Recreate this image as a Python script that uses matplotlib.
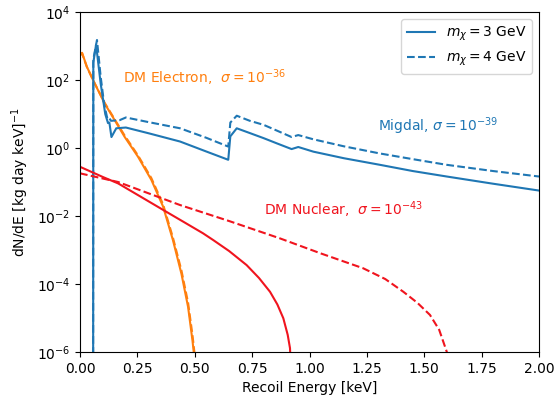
import numpy as np
import matplotlib
matplotlib.use('Agg')
import matplotlib.pyplot as plt

# DM-electron scattering spectra (3 GeV solid / 4 GeV dashed)
e_dme_3 = [0.0, 0.009, 0.03, 0.064, 0.108, 0.151, 0.195, 0.253, 0.311, 0.362, 0.405, 0.442, 0.471, 0.490, 0.497]
dme_3 = [5.5e2, 6.3e2, 2.45e2, 7.9e1, 2.0e1, 6.6e0, 2.1e0, 5.5e-1, 1.15e-1, 1.9e-2, 1.95e-3, 2.0e-4, 2.1e-5,
         2.2e-6, 8.1e-7]
e_dme_4 = [0.0, 0.009, 0.03, 0.064, 0.108, 0.151, 0.195, 0.253, 0.311, 0.362, 0.405, 0.442, 0.471, 0.490, 0.500]
dme_4 = [5.3e2, 6.1e2, 2.4e2, 8.0e1, 2.1e1, 7.0e0, 2.3e0, 6.0e-1, 1.3e-1, 2.2e-2, 2.3e-3, 2.5e-4, 2.8e-5,
         3.2e-6, 8.0e-7]

# Migdal spectra
e_mig_3 = [0.057, 0.058, 0.07, 0.09, 0.11, 0.122, 0.128, 0.137, 0.158, 0.2, 0.3, 0.436, 0.55, 0.646, 0.655,
           0.683, 0.74, 0.8, 0.86, 0.922, 0.951, 1.017, 1.15, 1.307, 1.45, 1.598, 1.8, 2.0]
mig_3 = [1e-10, 3.2e2, 1.1e3, 7.9e1, 1.0e1, 5.4e0, 5.6e0, 2.1e0, 3.8e0, 4.0e0, 2.7e0, 1.55e0, 7.9e-1, 4.5e-1,
         2.2e0, 3.8e0, 2.75e0, 1.95e0, 1.35e0, 9.3e-1, 1.07e0, 7.8e-1, 5.0e-1, 3.2e-1, 2.1e-1, 1.45e-1,
         8.9e-2, 5.6e-2]
e_mig_4 = [0.057, 0.058, 0.074, 0.09, 0.105, 0.119, 0.126, 0.135, 0.173, 0.2, 0.3, 0.436, 0.55, 0.646, 0.655,
           0.683, 0.74, 0.8, 0.86, 0.922, 0.951, 1.017, 1.15, 1.307, 1.45, 1.598, 1.8, 2.0]
mig_4 = [1e-10, 4.0e2, 1.5e3, 1.26e2, 2.0e1, 7.4e0, 7.9e0, 6.3e0, 6.6e0, 7.9e0, 5.75e0, 3.8e0, 2.0e0, 1.1e0,
         5.6e0, 8.9e0, 6.3e0, 4.8e0, 3.2e0, 2.1e0, 2.4e0, 1.8e0, 1.12e0, 6.9e-1, 4.7e-1, 3.2e-1, 2.1e-1,
         1.45e-1]

# DM-nuclear spectra
e_dmn_3 = [0.0, 0.1, 0.166, 0.363, 0.45, 0.536, 0.581, 0.65, 0.726, 0.78, 0.828, 0.86, 0.886, 0.905,
           0.915, 0.922]
dmn_3 = [2.8e-1, 1.4e-1, 9.1e-2, 1.5e-2, 6.8e-3, 3.1e-3, 1.95e-3, 9.3e-4, 3.6e-4, 1.5e-4, 5.9e-5, 2.5e-5,
         9.8e-6, 3.2e-6, 1.3e-6, 1e-7]
e_dmn_4 = [0.0, 0.166, 0.436, 0.65, 0.871, 1.05, 1.234, 1.33, 1.409, 1.47, 1.525, 1.565, 1.598, 1.61]
dmn_4 = [1.8e-1, 1.0e-1, 2.1e-2, 7.1e-3, 2.2e-3, 7.9e-4, 2.9e-4, 1.4e-4, 5.9e-5, 2.8e-5, 1.23e-5, 4.5e-6,
         1.02e-6, 1e-7]

blue = '#1f77b4'
orange = '#ff7f0e'
red = '#f0141e'

fig = plt.figure(figsize=(5.58, 3.98), dpi=100)
ax = fig.add_axes([80/558, 1 - 352/398, 459/558, 340/398])

ax.plot(e_dme_3, dme_3, color=orange, lw=1.5)
ax.plot(e_dme_4, dme_4, color=orange, lw=1.5, ls='--')
l3, = ax.plot(e_mig_3, mig_3, color=blue, lw=1.5, label=r'$m_\chi = 3$ GeV')
l4, = ax.plot(e_mig_4, mig_4, color=blue, lw=1.5, ls='--', label=r'$m_\chi = 4$ GeV')
ax.plot(e_dmn_3, dmn_3, color=red, lw=1.5)
ax.plot(e_dmn_4, dmn_4, color=red, lw=1.5, ls='--')

ax.set_yscale('log')
ax.set_xlim(0, 2)
ax.set_ylim(1e-6, 1e4)
ax.set_yticks([1e-6, 1e-4, 1e-2, 1e0, 1e2, 1e4])
ax.minorticks_off()

ax.text(0.187, 1.2e2, r'DM Electron,  $\sigma = 10^{-36}$', color=orange, va='center', fontsize=10)
ax.text(1.30, 4.5e0, r'Migdal, $\sigma = 10^{-39}$', color=blue, va='center', fontsize=10)
ax.text(0.80, 1.5e-2, r'DM Nuclear,  $\sigma = 10^{-43}$', color=red, va='center', fontsize=10)

ax.set_xlabel('Recoil Energy [keV]')
ax.set_ylabel(r'dN/dE [kg day keV]$^{-1}$')
ax.legend(handles=[l3, l4], loc='upper right')

fig.savefig('out.png', dpi=100)
